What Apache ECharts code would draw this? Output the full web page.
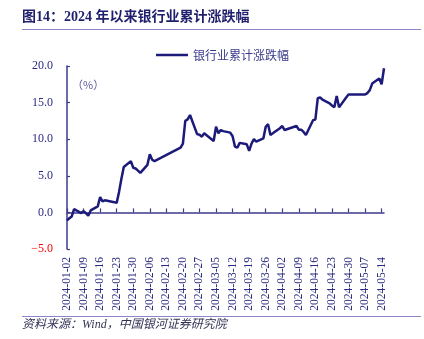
<!DOCTYPE html>
<html><head><meta charset="utf-8">
<script src="https://cdn.jsdelivr.net/npm/echarts@6/dist/echarts.min.js"></script>
<style>html,body{margin:0;padding:0;background:#fff}#c{width:424px;height:339px}</style>
</head><body><div id="c"></div>
<script>
// trading days and cumulative change (%)
const tradeDates = [
'2024-01-02','2024-01-03','2024-01-04','2024-01-05','2024-01-08','2024-01-09','2024-01-10','2024-01-11','2024-01-12',
'2024-01-15','2024-01-16','2024-01-17','2024-01-18','2024-01-19','2024-01-22','2024-01-23','2024-01-24','2024-01-25','2024-01-26',
'2024-01-29','2024-01-30','2024-01-31','2024-02-01','2024-02-02','2024-02-05','2024-02-06','2024-02-07','2024-02-08',
'2024-02-19','2024-02-20','2024-02-21','2024-02-22','2024-02-23','2024-02-26','2024-02-27','2024-02-28','2024-02-29',
'2024-03-01','2024-03-04','2024-03-05','2024-03-06','2024-03-07','2024-03-08','2024-03-11','2024-03-12','2024-03-13',
'2024-03-14','2024-03-15','2024-03-18','2024-03-19','2024-03-20','2024-03-21','2024-03-22','2024-03-25','2024-03-26',
'2024-03-27','2024-03-28','2024-03-29','2024-04-01','2024-04-02','2024-04-03','2024-04-08','2024-04-09','2024-04-10',
'2024-04-11','2024-04-12','2024-04-15','2024-04-16','2024-04-17','2024-04-18','2024-04-19','2024-04-22','2024-04-23',
'2024-04-24','2024-04-25','2024-04-26','2024-04-29','2024-04-30','2024-05-06','2024-05-07','2024-05-08','2024-05-09',
'2024-05-10','2024-05-13','2024-05-14','2024-05-15'
];
const bankChange = [
-1.1,-0.8,-0.55,0.45,-0.1,0.18,-0.1,-0.45,0.27,
0.82,2.1,1.5,1.65,1.6,1.4,1.3,2.8,4.6,6.2,
7.0,6.1,6.0,5.7,5.4,6.5,7.95,7.2,7.0,
8.84,9.4,12.5,12.7,13.3,10.7,10.6,10.35,10.8,
10.55,9.75,11.7,10.8,11.25,11.1,10.9,10.4,9.0,
8.84,9.5,9.3,8.4,9.4,10.0,9.66,10.1,11.7,
12.05,10.57,10.8,11.5,11.8,11.25,11.8,11.3,11.3,
11.0,10.57,12.6,12.7,15.6,15.7,15.4,14.9,14.6,
14.35,15.9,14.35,15.7,16.1,16.1,16.1,16.3,16.7,
17.6,18.3,17.5,19.7
];
const yTicks = [-5, 0, 5, 10, 15, 20];
const seriesName = '银行业累计涨跌幅';

// build calendar-day categories
const cats = [];
const map = {};
tradeDates.forEach((d,i)=>map[d]=bankChange[i]);
let d = new Date(Date.UTC(2024,0,2));
const end = new Date(Date.UTC(2024,4,15));
while (d <= end) {
  const s = d.toISOString().slice(0,10);
  cats.push(s);
  d = new Date(d.getTime()+86400000);
}
const vals = cats.map(c => (c in map) ? map[c] : null);

const navy = '#1c1a7a';
const axisCol = '#3d3a8c';
const chart = echarts.init(document.getElementById('c'), null, {renderer:'canvas'});
chart.setOption({
  animation:false,
  backgroundColor:'#fff',
  grid:{left:67, right:40, top:66, bottom:90, containLabel:false},
  legend:{
    show:true, top:44, left:151, itemWidth:32, itemHeight:10, itemGap:4,
    icon:'path://M0,4L32,4L32,6.5L0,6.5Z',
    textStyle:{fontFamily:'"Noto Sans CJK SC", "Liberation Serif", serif', fontSize:12, color:'#3a3a8a'},
    data:[{name:seriesName, itemStyle:{color:navy}}]
  },
  xAxis:[{
    type:'category', data:cats, boundaryGap:false, position:'bottom',
    axisLine:{show:false, onZero:false}, axisTick:{show:false},
    axisLabel:{rotate:90, interval:6, margin:8, fontSize:11.5,
      fontFamily:'"Liberation Serif", "Times New Roman", serif', color:'#2a2a80'},
    splitLine:{show:false}
  },{
    type:'category', data:cats, boundaryGap:false, position:'bottom',
    axisLine:{show:true, onZero:true, lineStyle:{color:axisCol, width:1.5}},
    axisTick:{show:true, inside:true, interval:6, length:4, lineStyle:{color:axisCol, width:1.2}},
    axisLabel:{show:false}, splitLine:{show:false}
  }],
  yAxis:{
    type:'value', min:-5, max:20, interval:5,
    axisLine:{show:true, onZero:false, lineStyle:{color:axisCol, width:1.5}},
    axisTick:{show:true, inside:true, length:3, lineStyle:{color:axisCol, width:1.2}},
    splitLine:{show:false},
    axisLabel:{margin:14, fontSize:12, fontFamily:'"Liberation Serif", "Times New Roman", serif',
      color:(v)=> (Number(v) < 0 ? '#ff0000' : '#2a2a80'),
      formatter:(v)=> (v<0 ? '\u2212' + Math.abs(v).toFixed(1) : v.toFixed(1))}
  },
  series:[{
    name:seriesName, type:'line', xAxisIndex:0, data:vals, connectNulls:true,
    showSymbol:false, symbol:'none',
    lineStyle:{color:navy, width:2.5}, itemStyle:{color:navy}
  }],
  graphic:[
    {type:'text', left:22, top:10, style:{text:'图14：2024 年以来银行业累计涨跌幅', fill:'#1f1f6e',
      font:'bold 14px "Liberation Serif", "Noto Sans CJK SC", serif'}},
    {type:'line', shape:{x1:22, y1:29.5, x2:421, y2:29.5}, style:{stroke:'#8a86c8', lineWidth:1}},
    {type:'text', left:72, top:79, style:{text:'（%）', fill:'#5a5a9a',
      font:'11px "Noto Sans CJK SC", serif'}},
    {type:'line', shape:{x1:22, y1:316.5, x2:421, y2:316.5}, style:{stroke:'#8a86c8', lineWidth:1}},
    {type:'text', left:22, top:319, style:{text:'资料来源：Wind，中国银河证券研究院', fill:'#333355',
      font:'italic 12px "Liberation Serif", "Noto Sans CJK SC", serif'}}
  ]
});
</script></body></html>
